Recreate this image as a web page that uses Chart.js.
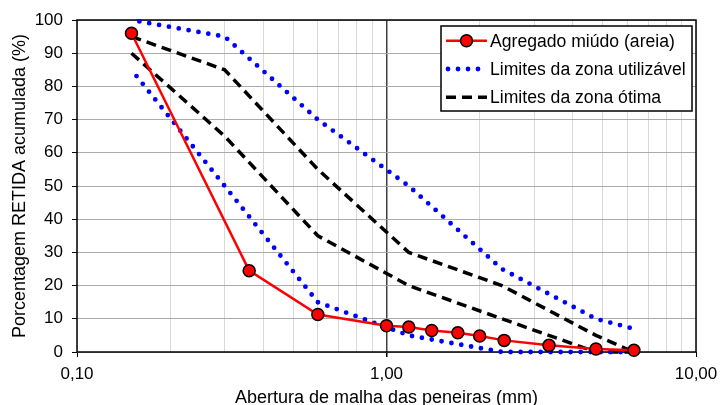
<!DOCTYPE html>
<html>
<head>
<meta charset="utf-8">
<script src="https://cdn.jsdelivr.net/npm/chart.js@4.4.1/dist/chart.umd.min.js"></script>
<style>
  html, body { margin: 0; padding: 0; background: #fff; }
  #wrap { width: 720px; height: 405px; }
</style>
</head>
<body>
<div id="wrap"><canvas id="chart" width="720" height="405"></canvas></div>
<script>
// Peneiras da série normal e limites granulométricos (% retida acumulada)
const sieveSizes   = [0.15, 0.3, 0.6, 1.18, 2.36, 4.75, 6.3];
const usableUpper  = [100, 95, 70, 50, 25, 10, 7];
const usableLower  = [85, 50, 15, 5, 0, 0, 0];
const optimalUpper = [95, 85, 55, 30, 20, 5, 0];
const optimalLower = [90, 65, 35, 20, 10, 0, 0];

// Ensaio da areia
const sandOpenings = [0.15, 0.36, 0.6, 1.0, 1.18, 1.4, 1.7, 2.0, 2.4, 3.35, 4.75, 6.3];
const sandRetained = [96, 24.5, 11.3, 7.9, 7.5, 6.5, 5.8, 4.8, 3.5, 2.0, 0.9, 0.5];

const xMajorTicks = [0.1, 1, 10];
const xTickLabels = ['0,10', '1,00', '10,00'];

const FONT = '"Liberation Sans", Arial, sans-serif';

const toPoints = (xs, ys) => xs.map((x, i) => ({ x, y: ys[i] }));
const majorIndex = v => xMajorTicks.findIndex(m => Math.abs(m - v) < 1e-9);

const dottedBlue = {
  borderColor: '#0000ff',
  borderWidth: 4.8,
  borderDash: [0, 10],
  borderDashOffset: 2,
  borderCapStyle: 'round',
  pointRadius: 0,
  fill: false,
  clip: false,
};
const dashedBlack = {
  borderColor: '#000000',
  borderWidth: 3.5,
  borderDash: [10, 6],
  borderCapStyle: 'butt',
  pointRadius: 0,
  fill: false,
  clip: false,
};

const datasets = [
  {
    label: 'Agregado miúdo (areia)',
    data: toPoints(sandOpenings, sandRetained),
    borderColor: '#ff0000',
    borderWidth: 2.5,
    pointRadius: 6,
    pointBackgroundColor: '#ff0000',
    pointBorderColor: '#000000',
    pointBorderWidth: 1.5,
    fill: false,
    clip: false,
    inLegend: true,
  },
  { label: 'Limites da zona utilizável', data: toPoints(sieveSizes, usableUpper), ...dottedBlue, inLegend: true },
  { label: 'Limites da zona utilizável', data: toPoints(sieveSizes, usableLower), ...dottedBlue },
  { label: 'Limites da zona ótima', data: toPoints(sieveSizes, optimalUpper), ...dashedBlack, inLegend: true },
  { label: 'Limites da zona ótima', data: toPoints(sieveSizes, optimalLower), ...dashedBlack },
];

// moldura da área do gráfico + legenda em caixa dentro do gráfico
const frameAndLegend = {
  id: 'frameAndLegend',
  beforeDatasetsDraw(chart) {
    const { ctx, chartArea: a } = chart;
    ctx.save();
    ctx.strokeStyle = '#000';
    ctx.lineWidth = 1.5;
    ctx.strokeRect(a.left, a.top, a.right - a.left, a.bottom - a.top);
    ctx.restore();
  },
  afterDatasetsDraw(chart) {
    const { ctx } = chart;
    const box = { x: 441, y: 26, w: 251, h: 85 };
    const rowH = 28.3;
    ctx.save();
    ctx.fillStyle = '#fff';
    ctx.fillRect(box.x, box.y, box.w, box.h);
    ctx.strokeStyle = '#000';
    ctx.lineWidth = 1.5;
    ctx.strokeRect(box.x, box.y, box.w, box.h);

    const entries = chart.data.datasets.filter(d => d.inLegend);
    entries.forEach((ds, i) => {
      const cy = box.y + 14.7 + i * rowH;
      const dotted = ds.borderDash && ds.borderDash[0] === 0;
      ctx.save();
      ctx.strokeStyle = ds.borderColor;
      ctx.lineWidth = ds.borderWidth;
      ctx.lineCap = ds.borderCapStyle || 'butt';
      ctx.setLineDash(ds.borderDash || []);
      ctx.lineDashOffset = 0;
      ctx.beginPath();
      ctx.moveTo(dotted ? 448 : 446, cy);
      ctx.lineTo(dotted ? 482 : 487, cy);
      ctx.stroke();
      if (ds.pointRadius) {
        ctx.setLineDash([]);
        ctx.beginPath();
        ctx.arc(466.5, cy, ds.pointRadius, 0, Math.PI * 2);
        ctx.fillStyle = ds.pointBackgroundColor;
        ctx.fill();
        ctx.lineWidth = ds.pointBorderWidth;
        ctx.strokeStyle = ds.pointBorderColor;
        ctx.stroke();
      }
      ctx.restore();
      ctx.fillStyle = '#000';
      ctx.font = '17.6px ' + FONT;
      ctx.textBaseline = 'middle';
      ctx.textAlign = 'left';
      ctx.fillText(ds.label, 490, cy + 1);
    });
    ctx.restore();
  },
};

new Chart(document.getElementById('chart'), {
  type: 'line',
  data: { datasets },
  plugins: [frameAndLegend],
  options: {
    responsive: false,
    animation: false,
    devicePixelRatio: 1,
    layout: { padding: { top: 20, right: 24, left: 0, bottom: 0 } },
    plugins: {
      legend: { display: false },
      tooltip: { enabled: false },
    },
    elements: { line: { tension: 0 } },
    scales: {
      x: {
        type: 'logarithmic',
        min: 0.1,
        max: 10,
        afterBuildTicks: scale => {
          const ticks = [];
          xMajorTicks.forEach((v, i) => {
            if (i < xMajorTicks.length - 1) {
              for (let m = 1; m < 10; m++) ticks.push({ value: v * m });
            } else {
              ticks.push({ value: v });
            }
          });
          scale.ticks = ticks;
        },
        afterFit: scale => {
          scale.height = 53;
          scale.paddingLeft = 0;
          scale.paddingRight = 0;
        },
        ticks: {
          autoSkip: false,
          maxRotation: 0,
          padding: 7,
          color: '#000',
          font: { family: FONT, size: 17 },
          callback: value => {
            const i = majorIndex(value);
            return i >= 0 ? xTickLabels[i] : '';
          },
        },
        grid: {
          color: c => (Math.abs(c.tick.value - 1) < 1e-9 ? '#404040' : '#d9d9d9'),
          lineWidth: c => (Math.abs(c.tick.value - 1) < 1e-9 ? 1.5 : 1),
          tickColor: c => (majorIndex(c.tick.value) >= 0 ? '#000' : 'rgba(0,0,0,0)'),
          tickLength: 5,
        },
        border: { display: false },
        title: {
          display: true,
          text: 'Abertura de malha das peneiras (mm)',
          color: '#000',
          font: { family: FONT, size: 18 },
          padding: { top: 0, bottom: -4 },
        },
      },
      y: {
        min: 0,
        max: 100,
        afterFit: scale => { scale.width = 77; },
        ticks: {
          stepSize: 10,
          padding: 9,
          color: '#000',
          font: { family: FONT, size: 17 },
        },
        grid: {
          color: '#ababab',
          lineWidth: 1,
          tickColor: '#000',
          tickLength: 5,
        },
        border: { display: false },
        title: {
          display: true,
          text: 'Porcentagem RETIDA acumulada (%)',
          color: '#000',
          font: { family: FONT, size: 18 },
          padding: { top: 9, bottom: 0 },
        },
      },
    },
  },
});
</script>
</body>
</html>
